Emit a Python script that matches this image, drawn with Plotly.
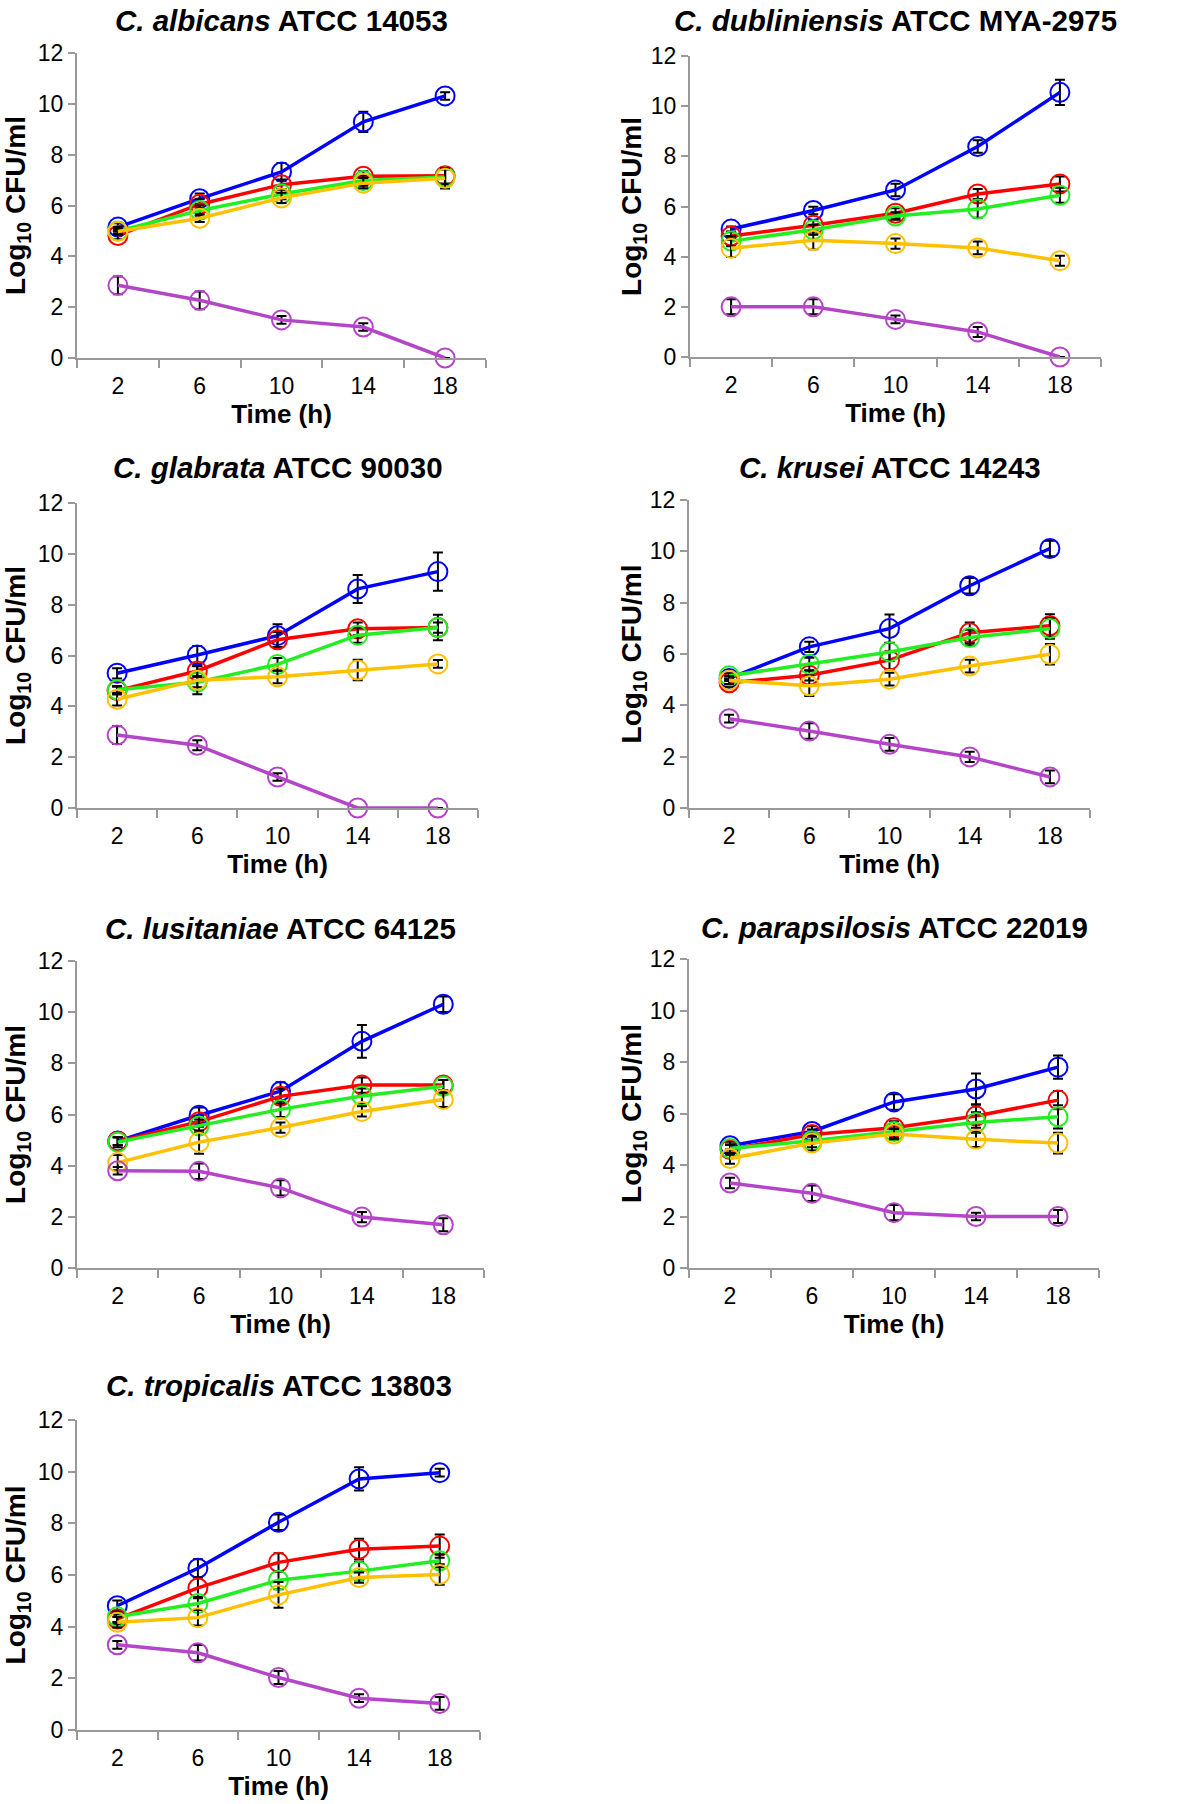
import plotly.graph_objects as go

# ---------------- data ----------------
TIMES = [2, 6, 10, 14, 18]
TIME_LABELS = ["2", "6", "10", "14", "18"]
Y_TICKS = [0, 2, 4, 6, 8, 10, 12]
SERIES_NAMES = ["Series 1", "Series 2", "Series 3", "Series 4", "Series 5"]
SERIES_COLORS = ["#0000FF", "#FF0000", "#22EE22", "#FFC000", "#B545C8"]

TITLES = [
    "<i>C. albicans</i> ATCC 14053",
    "<i>C. dubliniensis</i> ATCC MYA-2975",
    "<i>C. glabrata</i> ATCC 90030",
    "<i>C. krusei</i> ATCC 14243",
    "<i>C. lusitaniae</i> ATCC 64125",
    "<i>C. parapsilosis</i> ATCC 22019",
    "<i>C. tropicalis</i> ATCC 13803",
]

# series order: blue, red, green, yellow, purple
ALBICANS_MEAN = [
    [5.15, 6.27, 7.32, 9.29, 10.31],
    [4.82, 6.05, 6.82, 7.15, 7.17],
    [5.00, 5.80, 6.45, 6.98, 7.12],
    [4.98, 5.50, 6.30, 6.88, 7.07],
    [2.86, 2.27, 1.50, 1.22, 0.00],
]
ALBICANS_SD = [
    [0.15, 0.20, 0.35, 0.40, 0.15],
    [0.15, 0.20, 0.20, 0.20, 0.30],
    [0.15, 0.20, 0.20, 0.20, 0.30],
    [0.10, 0.15, 0.20, 0.20, 0.40],
    [0.35, 0.35, 0.15, 0.15, 0.00],
]
DUBLINIENSIS_MEAN = [
    [5.10, 5.84, 6.66, 8.39, 10.55],
    [4.82, 5.25, 5.73, 6.50, 6.90],
    [4.62, 5.07, 5.62, 5.90, 6.45],
    [4.34, 4.65, 4.52, 4.35, 3.84],
    [2.00, 2.00, 1.50, 1.00, 0.00],
]
DUBLINIENSIS_SD = [
    [0.10, 0.15, 0.25, 0.25, 0.50],
    [0.15, 0.20, 0.20, 0.20, 0.30],
    [0.20, 0.20, 0.15, 0.35, 0.30],
    [0.35, 0.35, 0.20, 0.25, 0.20],
    [0.30, 0.30, 0.15, 0.20, 0.00],
]
GLABRATA_MEAN = [
    [5.30, 6.02, 6.78, 8.62, 9.30],
    [4.62, 5.39, 6.62, 7.05, 7.10],
    [4.65, 4.95, 5.65, 6.80, 7.10],
    [4.28, 5.03, 5.16, 5.43, 5.67],
    [2.87, 2.47, 1.22, 0.00, 0.00],
]
GLABRATA_SD = [
    [0.20, 0.35, 0.45, 0.55, 0.75],
    [0.15, 0.20, 0.30, 0.25, 0.20],
    [0.15, 0.20, 0.25, 0.30, 0.50],
    [0.25, 0.55, 0.25, 0.40, 0.15],
    [0.35, 0.20, 0.15, 0.00, 0.00],
]
KRUSEI_MEAN = [
    [5.05, 6.28, 6.99, 8.66, 10.11],
    [4.88, 5.17, 5.76, 6.83, 7.10],
    [5.15, 5.60, 6.08, 6.64, 6.99],
    [4.98, 4.76, 5.02, 5.53, 5.99],
    [3.48, 3.00, 2.48, 1.99, 1.21],
]
KRUSEI_SD = [
    [0.10, 0.20, 0.55, 0.30, 0.30],
    [0.15, 0.20, 0.35, 0.40, 0.45],
    [0.10, 0.25, 0.35, 0.30, 0.40],
    [0.15, 0.40, 0.25, 0.25, 0.40],
    [0.15, 0.30, 0.25, 0.20, 0.25],
]
LUSITANIAE_MEAN = [
    [4.96, 5.97, 6.91, 8.86, 10.31],
    [4.95, 5.72, 6.71, 7.15, 7.15],
    [4.92, 5.55, 6.20, 6.72, 7.10],
    [4.12, 4.92, 5.49, 6.12, 6.59],
    [3.80, 3.78, 3.13, 1.99, 1.69],
]
LUSITANIAE_SD = [
    [0.15, 0.30, 0.35, 0.64, 0.30],
    [0.15, 0.20, 0.30, 0.30, 0.20],
    [0.20, 0.25, 0.30, 0.30, 0.25],
    [0.30, 0.45, 0.20, 0.20, 0.30],
    [0.15, 0.30, 0.30, 0.20, 0.25],
]
PARAPSILOSIS_MEAN = [
    [4.75, 5.30, 6.45, 6.95, 7.80],
    [4.60, 5.18, 5.45, 5.90, 6.52],
    [4.64, 4.94, 5.30, 5.65, 5.87],
    [4.25, 4.85, 5.20, 5.00, 4.85],
    [3.30, 2.90, 2.15, 2.00, 2.00],
]
PARAPSILOSIS_SD = [
    [0.15, 0.20, 0.30, 0.60, 0.45],
    [0.20, 0.20, 0.25, 0.45, 0.35],
    [0.15, 0.25, 0.25, 0.40, 0.45],
    [0.20, 0.30, 0.20, 0.30, 0.40],
    [0.20, 0.30, 0.30, 0.15, 0.25],
]
TROPICALIS_MEAN = [
    [4.81, 6.26, 8.04, 9.72, 9.96],
    [4.30, 5.50, 6.49, 7.00, 7.12],
    [4.38, 4.90, 5.80, 6.15, 6.55],
    [4.17, 4.35, 5.23, 5.90, 6.02],
    [3.30, 2.99, 2.03, 1.23, 1.03],
]
TROPICALIS_SD = [
    [0.20, 0.35, 0.30, 0.45, 0.15],
    [0.20, 0.40, 0.35, 0.40, 0.45],
    [0.20, 0.25, 0.35, 0.35, 0.25],
    [0.20, 0.30, 0.50, 0.20, 0.40],
    [0.15, 0.30, 0.25, 0.15, 0.25],
]

PANEL_MEANS = [ALBICANS_MEAN, DUBLINIENSIS_MEAN, GLABRATA_MEAN, KRUSEI_MEAN,
               LUSITANIAE_MEAN, PARAPSILOSIS_MEAN, TROPICALIS_MEAN]
PANEL_SDS = [ALBICANS_SD, DUBLINIENSIS_SD, GLABRATA_SD, KRUSEI_SD,
             LUSITANIAE_SD, PARAPSILOSIS_SD, TROPICALIS_SD]

# ---------------- layout (page pixels) ----------------
W, H = 1200, 1804
# left, right, top(y=12), bottom(y=0), title center y
BOXES = [
    (77, 486, 53, 358, 20),
    (690, 1101, 56, 357, 21),
    (77, 478, 503, 808, 468),
    (689, 1090, 500, 808, 468),
    (77, 484, 961, 1268, 928),
    (689, 1099, 959, 1268, 927),
    (77, 480, 1420, 1730, 1385),
]

FONT = "Liberation Sans, Arial, Helvetica, sans-serif"
AXIS_GRAY = "#999999"

fig = go.Figure()
layout = dict(
    width=W, height=H,
    margin=dict(l=0, r=0, t=0, b=0, pad=0, autoexpand=False),
    paper_bgcolor="white", plot_bgcolor="white",
    showlegend=False,
    font=dict(family=FONT, color="black", size=23),
    annotations=[],
)

for i, (means, sds) in enumerate(zip(PANEL_MEANS, PANEL_SDS)):
    k = i + 1
    xa = "x" if k == 1 else f"x{k}"
    ya = "y" if k == 1 else f"y{k}"
    for s in range(5):
        fig.add_trace(go.Scatter(
            x=TIMES, y=means[s], name=SERIES_NAMES[s],
            xaxis=xa, yaxis=ya, mode="lines+markers",
            line=dict(color=SERIES_COLORS[s], width=3.5),
            marker=dict(symbol="circle-open", size=19,
                        color=SERIES_COLORS[s], line=dict(width=2, color=SERIES_COLORS[s])),
            error_y=dict(type="data", array=sds[s], visible=True,
                         color="black", thickness=2, width=5),
            cliponaxis=False,
        ))
    l, r, t, b, ty = BOXES[i]
    xdom = [l / W, r / W]
    ydom = [1 - b / H, 1 - t / H]
    left_col = l < 300
    layout["xaxis" if k == 1 else f"xaxis{k}"] = dict(
        domain=xdom, anchor=ya, range=[0, 20],
        tickmode="array", tickvals=TIMES, ticktext=TIME_LABELS,
        ticks="outside", ticklen=6, tickcolor="rgba(0,0,0,0)",
        tickfont=dict(size=23, family=FONT, color="black"),
        minor=dict(tickmode="array", tickvals=[0, 4, 8, 12, 16, 20],
                   ticks="outside", ticklen=8, tickwidth=2, tickcolor=AXIS_GRAY,
                   showgrid=False),
        showline=True, linecolor=AXIS_GRAY, linewidth=2,
        showgrid=False, zeroline=False, fixedrange=True, automargin=False,
        title=dict(text="Time (h)",
                   font=dict(size=26, family=FONT, color="black", weight="bold"),
                   standoff=4),
    )
    layout["yaxis" if k == 1 else f"yaxis{k}"] = dict(
        domain=ydom, anchor=xa, range=[0, 12],
        tickmode="array", tickvals=Y_TICKS,
        ticks="outside", ticklen=7, tickwidth=2, tickcolor=AXIS_GRAY,
        tickfont=dict(size=23, family=FONT, color="black"),
        showline=True, linecolor=AXIS_GRAY, linewidth=2,
        showgrid=False, zeroline=False, fixedrange=True, automargin=False,
        title=dict(text="Log<sub>10</sub> CFU/ml",
                   font=dict(size=28, family=FONT, color="black", weight="bold"),
                   standoff=5 if left_col else 0),
    )
    layout["annotations"].append(dict(
        text=TITLES[i], xref="paper", yref="paper",
        x=(l + r) / 2 / W, y=1 - ty / H, xanchor="center", yanchor="middle",
        showarrow=False,
        font=dict(size=29.5, family=FONT, color="black", weight="bold"),
    ))

fig.update_layout(**layout)
fig.write_html("out.html", config={"displayModeBar": False},
               post_script="document.body.style.margin='0px';")
